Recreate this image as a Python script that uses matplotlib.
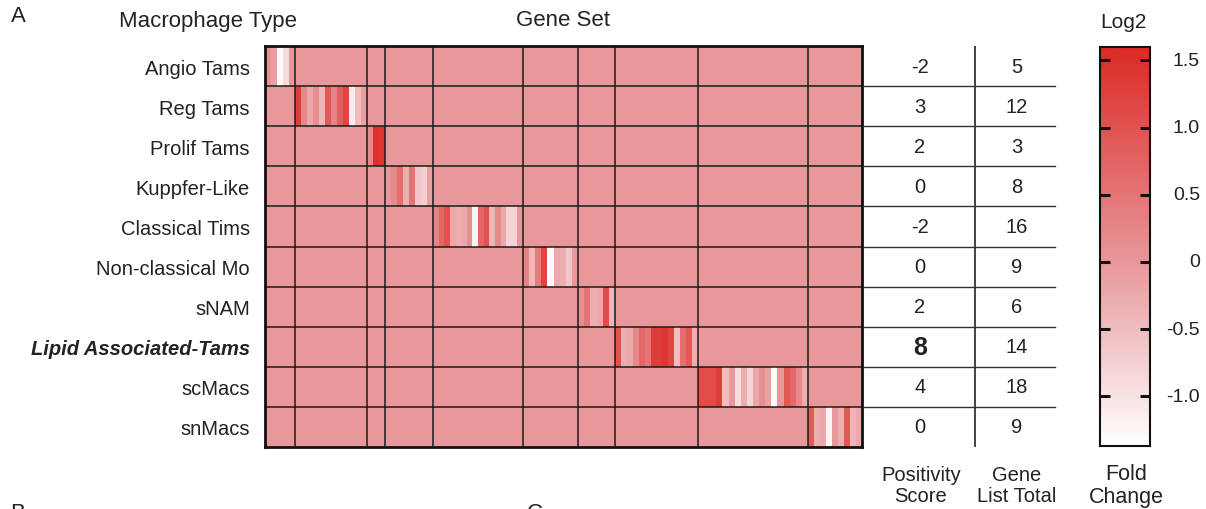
import matplotlib

matplotlib.use("Agg")
import matplotlib.pyplot as plt
import numpy as np
from matplotlib.colors import LinearSegmentedColormap
from matplotlib.transforms import blended_transform_factory

plt.rcParams["font.family"] = ["Liberation Sans", "DejaVu Sans"]

macrophage_types = [
    "Angio Tams", "Reg Tams", "Prolif Tams", "Kuppfer-Like", "Classical Tims",
    "Non-classical Mo", "sNAM", "Lipid Associated-Tams", "scMacs", "snMacs",
]
positivity_score = [-2, 3, 2, 0, -2, 0, 2, 8, 4, 0]
gene_list_total = [5, 12, 3, 8, 16, 9, 6, 14, 18, 9]

# log2 fold change of each gene set in its own macrophage type
angio = [0.1, -0.1, -1.3, -0.9, 0.0]
reg = [1.3, 0.2, -0.2, 0.1, -0.4, 0.9, 0.3, 0.8, 1.2, -1.1, -0.5, -0.1]
prolif = [0.2, 1.5, 1.4]
kupffer = [0.0, 0.2, 0.6, -0.3, 0.5, -0.6, -0.7, -0.1]
classical = [0.3, 0.7, 1.0, -0.2, -0.3, -0.2, 0.1, -1.2, 0.7, 1.0, -0.4, 0.2,
             -0.2, -0.8, -0.8, 0.0]
nonclassical = [0.3, -0.4, 0.4, 1.2, -1.3, -0.2, -0.3, -0.6, 0.0]
snam = [0.1, 0.5, -0.3, -0.2, 1.1, -0.4]
lipid = [1.0, -0.3, -0.2, 0.2, 0.7, 0.5, 1.3, 1.3, 1.4, 1.2, -0.5, 0.6, 0.9, -0.3]
scmacs = [1.1, 1.1, 1.1, 1.3, -0.5, 0.0, -0.9, -0.3, -0.8, -0.2, 0.1, -0.1,
          -1.3, 0.0, 0.9, 0.7, 0.2, -0.3]
snmacs = [0.9, -0.3, -0.2, -1.2, 0.0, -0.3, 0.9, -0.4, -0.2]
background_value = 0.0

cbar_ticks = [1.5, 1.0, 0.5, 0, -0.5, -1.0]
cbar_labels = ["1.5", "1.0", "0.5", "0", "-0.5", "-1.0"]
vmin, vmax = -1.37, 1.6

# drawn width of each gene-set block (layout only)
block_px = [30, 72, 18, 48, 90, 55, 37, 83, 110, 54]

blocks = [angio, reg, prolif, kupffer, classical, nonclassical, snam, lipid, scmacs, snmacs]
n_rows = len(macrophage_types)
n_cols = sum(gene_list_total)
bounds = np.concatenate([[0], np.cumsum(gene_list_total)])
block_edges = np.concatenate([[0], np.cumsum(block_px)])

mat = np.full((n_rows, n_cols), background_value)
for i, vals in enumerate(blocks):
    mat[i, bounds[i]:bounds[i + 1]] = vals

x_edges = [0.0]
for i, n in enumerate(gene_list_total):
    x_edges.extend(np.linspace(block_edges[i], block_edges[i + 1], n + 1)[1:])
x_edges = np.array(x_edges)

zero_pos = -vmin / (vmax - vmin)
cmap = LinearSegmentedColormap.from_list(
    "wr", [(0, "#FFFFFF"), (zero_pos, "#E8979A"), (1, "#DC2A24")])
text_c = "#222222"

W, H = 1206, 510
fig = plt.figure(figsize=(W / 100, H / 100), dpi=100)


def px_axes(x0, y0, x1, y1):
    return fig.add_axes([x0 / W, 1 - y1 / H, (x1 - x0) / W, (y1 - y0) / H])


# heatmap
ax = px_axes(265, 47, 265 + block_edges[-1], 448)
ax.pcolormesh(x_edges, np.arange(n_rows + 1), mat, cmap=cmap, vmin=vmin, vmax=vmax)
ax.set_xlim(0, block_edges[-1])
ax.set_ylim(n_rows, 0)
for b in block_edges[1:-1]:
    ax.axvline(b, color="#1a1a1a", lw=1.1)
for r in range(1, n_rows):
    ax.axhline(r, color="#1a1a1a", lw=1.1)
for s in ax.spines.values():
    s.set_linewidth(2.0)
    s.set_color("#111111")
ax.set_xticks([])
ax.set_yticks(np.arange(n_rows) + 0.5)
ax.set_yticklabels(macrophage_types, fontsize=14.5, color=text_c)
ax.tick_params(axis="y", length=0, pad=11)
lbl = ax.get_yticklabels()[7]
lbl.set_fontweight("bold")
lbl.set_fontstyle("italic")

# table
tab = px_axes(863, 47, 1060, 448)
tab.set_xlim(863, 1060)
tab.set_ylim(n_rows, 0)
tab.axis("off")
for r in range(1, n_rows):
    tab.plot([863, 1055], [r, r], color="#333333", lw=1.0)
tab.plot([975, 975], [0, n_rows], color="#333333", lw=1.3)
for i in range(n_rows):
    bold = positivity_score[i] == max(positivity_score)
    tab.text(920, i + 0.5, str(positivity_score[i]), ha="center", va="center",
             fontsize=18 if bold else 14.5, fontweight="bold" if bold else "normal",
             color=text_c)
    tab.text(1017, i + 0.5, str(gene_list_total[i]), ha="center", va="center",
             fontsize=14.5, color=text_c)

# colorbar
cax = px_axes(1100, 48, 1150, 447)
grad = np.linspace(vmin, vmax, 300).reshape(-1, 1)
cax.imshow(grad, aspect="auto", cmap=cmap, vmin=vmin, vmax=vmax, origin="lower",
           extent=[0, 1, vmin, vmax])
cax.set_xticks([])
cax.set_yticks(cbar_ticks)
cax.set_yticklabels([])
cax.tick_params(axis="y", direction="in", left=True, right=True, length=7,
                width=2.2, color="#111111")
for s in cax.spines.values():
    s.set_linewidth(1.5)
    s.set_color("#111111")
tr = blended_transform_factory(cax.transAxes, cax.transData)
for v, t in zip(cbar_ticks, cbar_labels):
    cax.text(2.0, v, t, transform=tr, ha="right", va="center", fontsize=14,
             color=text_c)

# titles and labels
fig.text(18 / W, 1 - 16 / H, "A", ha="center", va="center", fontsize=16, color=text_c)
fig.text(208 / W, 1 - 22 / H, "Macrophage Type", ha="center", va="center",
         fontsize=16, color=text_c)
fig.text(563 / W, 1 - 20 / H, "Gene Set", ha="center", va="center",
         fontsize=16, color=text_c)
fig.text(1123 / W, 1 - 22 / H, "Log2", ha="center", va="center", fontsize=15,
         color=text_c)
fig.text(921 / W, 1 - 486 / H, "Positivity\nScore", ha="center", va="center",
         fontsize=14.5, color=text_c, linespacing=1.15)
fig.text(1017 / W, 1 - 486 / H, "Gene\nList Total", ha="center", va="center",
         fontsize=14.5, color=text_c, linespacing=1.15)
fig.text(1126 / W, 1 - 486 / H, "Fold\nChange", ha="center", va="center",
         fontsize=15.5, color=text_c, linespacing=1.15)
fig.text(18 / W, 1 - 503 / H, "B", ha="center", va="top", fontsize=16, color=text_c)
fig.text(535 / W, 1 - 503 / H, "C", ha="center", va="top", fontsize=16, color=text_c)

fig.savefig("out.png", dpi=100)
